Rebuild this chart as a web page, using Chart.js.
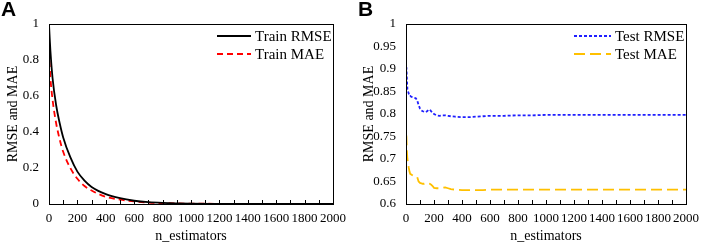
<!DOCTYPE html>
<html>
<head>
<meta charset="utf-8">
<script src="https://cdn.jsdelivr.net/npm/chart.js@4.4.0/dist/chart.umd.min.js"></script>
<style>
  html, body { margin: 0; padding: 0; background: #fff; }
  .wrap { position: relative; width: 706px; height: 244px; }
  .panel { position: absolute; top: 0; width: 353px; height: 244px; }
  .tag { position: absolute; top: -3px; font: bold 21px "Liberation Sans", Arial, sans-serif; color: #000; }
  .preload { font-family: "Liberation Serif"; position: absolute; left: -999px; }
</style>
</head>
<body>
<div class="wrap">
  <div class="panel" style="left:0"><canvas id="chartA" width="353" height="244"></canvas></div>
  <div class="panel" style="left:353px"><canvas id="chartB" width="353" height="244"></canvas></div>
  <div class="tag" style="left:1px">A</div>
  <div class="tag" style="left:358px">B</div>
  <span class="preload">0123456789 RMSE</span>
</div>
<script>
// Panel A - training error
const xTrain = [0, 5, 10, 25, 50, 75, 100, 150, 200, 250, 300, 400, 500, 600, 700, 800, 1000, 1200, 1500, 2000];
const trainRmse = [1.0, 0.92, 0.85, 0.7, 0.55, 0.45, 0.37, 0.26, 0.18, 0.13, 0.095, 0.055, 0.032, 0.018, 0.01, 0.006, 0.002, 0.001, 0, 0];
const trainMae = [0.85, 0.77, 0.7, 0.58, 0.45, 0.36, 0.29, 0.2, 0.14, 0.1, 0.075, 0.04, 0.024, 0.014, 0.008, 0.005, 0.002, 0.001, 0, 0];

// Panel B - test error
const xTest = [0, 3, 6, 10, 15, 20, 25, 30, 40, 50, 60, 70, 80, 90, 100, 110, 120, 130, 140, 150, 160, 170, 180, 190, 200,
  220, 240, 260, 280, 300, 320, 350, 400, 450, 500, 550, 600, 700, 800, 900, 1000, 1200, 1400, 1600, 1800, 2000];
const testRmse = [0.905, 0.903, 0.88, 0.855, 0.85, 0.845, 0.84, 0.84, 0.838, 0.837, 0.836, 0.835, 0.83, 0.82, 0.812, 0.808,
  0.806, 0.805, 0.804, 0.806, 0.809, 0.81, 0.806, 0.803, 0.8, 0.797, 0.796, 0.797, 0.797, 0.796, 0.795, 0.794, 0.793, 0.793,
  0.794, 0.795, 0.796, 0.796, 0.797, 0.797, 0.798, 0.798, 0.798, 0.798, 0.798, 0.798];
const testMae = [0.755, 0.75, 0.72, 0.7, 0.69, 0.68, 0.672, 0.667, 0.665, 0.663, 0.662, 0.66, 0.66, 0.65, 0.647, 0.646,
  0.645, 0.645, 0.646, 0.645, 0.646, 0.645, 0.643, 0.64, 0.636, 0.635, 0.635, 0.636, 0.637, 0.635, 0.633, 0.632, 0.631, 0.631,
  0.631, 0.631, 0.632, 0.632, 0.632, 0.632, 0.632, 0.632, 0.632, 0.632, 0.632, 0.632];

const serif = '"Liberation Serif", "Times New Roman", serif';
Chart.defaults.font.family = serif;
Chart.defaults.color = '#000';

function toPoints(xs, ys) {
  return xs.map((x, i) => ({ x: x, y: ys[i] }));
}

// Box around the plot, inward minor ticks on the x axis, legend inside top right
const framePlugin = {
  id: 'frame',
  afterDraw(chart, args, opts) {
    const ctx = chart.ctx;
    const a = chart.chartArea;
    const xs = chart.scales.x;
    ctx.save();
    ctx.strokeStyle = '#000';
    ctx.lineWidth = 1;
    ctx.strokeRect(a.left + 0.5, a.top + 0.5, a.right - a.left, a.bottom - a.top);
    ctx.beginPath();
    for (let v = 0; v <= 2000; v += 100) {
      const px = Math.round(xs.getPixelForValue(v)) + 0.5;
      ctx.moveTo(px, a.bottom);
      ctx.lineTo(px, a.bottom - 4);
    }
    ctx.stroke();

    // legend
    ctx.font = '15px ' + serif;
    ctx.textBaseline = 'middle';
    chart.data.datasets.forEach((ds, i) => {
      const y = a.top + opts.legendTop + i * 18;
      const x0 = a.left + opts.legendLeft;
      ctx.beginPath();
      ctx.strokeStyle = ds.borderColor;
      ctx.lineWidth = ds.borderWidth;
      ctx.setLineDash(ds.borderDash || []);
      ctx.moveTo(x0, y);
      ctx.lineTo(x0 + opts.sampleWidth, y);
      ctx.stroke();
      ctx.setLineDash([]);
      ctx.fillStyle = '#000';
      ctx.fillText(ds.label, x0 + opts.sampleWidth + 4, y + 1);
    });
    ctx.restore();
  }
};

function makeChart(id, datasets, yMin, yMax, yStep, yWidth, yTitlePad, legendLeft, sampleWidth) {
  const ctx = document.getElementById(id).getContext('2d');
  return new Chart(ctx, {
    type: 'line',
    data: { datasets: datasets },
    options: {
      responsive: false,
      animation: false,
      layout: { padding: { top: 24, right: 13, bottom: 0, left: 0 } },
      elements: { point: { radius: 0 }, line: { tension: 0 } },
      plugins: {
        legend: { display: false },
        tooltip: { enabled: false },
        frame: { legendTop: 12, legendLeft: legendLeft, sampleWidth: sampleWidth }
      },
      scales: {
        x: {
          type: 'linear',
          min: 0,
          max: 2000,
          afterFit: s => { s.height = 40; },
          grid: { display: false, drawTicks: false, tickLength: 0 },
          border: { display: false },
          ticks: {
            stepSize: 200,
            maxRotation: 0,
            autoSkip: false,
            padding: 7,
            color: '#000',
            font: { family: serif, size: 13 },
            callback: v => String(v)
          },
          title: {
            display: true,
            text: 'n_estimators',
            color: '#000',
            padding: { top: 3, bottom: -1 },
            font: { family: serif, size: 14 }
          }
        },
        y: {
          min: yMin,
          max: yMax,
          afterFit: s => { s.width = yWidth; },
          grid: { display: false, drawTicks: false, tickLength: 0 },
          border: { display: false },
          ticks: {
            stepSize: yStep,
            padding: 10,
            color: '#000',
            font: { family: serif, size: 13 },
            callback: v => String(+v.toFixed(2))
          },
          title: {
            display: true,
            text: 'RMSE and MAE',
            color: '#000',
            padding: { top: yTitlePad, bottom: 0 },
            font: { family: serif, size: 14 }
          }
        }
      }
    },
    plugins: [framePlugin]
  });
}

function drawAll() {
  makeChart('chartA', [
    {
      label: 'Train RMSE',
      data: toPoints(xTrain, trainRmse),
      borderColor: '#000000',
      borderWidth: 1.8,
      cubicInterpolationMode: 'monotone'
    },
    {
      label: 'Train MAE',
      data: toPoints(xTrain, trainMae),
      borderColor: '#ff0000',
      borderWidth: 1.8,
      borderDash: [6, 4],
      cubicInterpolationMode: 'monotone'
    }
  ], 0, 1, 0.2, 49, 5, 168, 34);

  makeChart('chartB', [
    {
      label: 'Test RMSE',
      data: toPoints(xTest, testRmse),
      borderColor: '#1f1fff',
      borderWidth: 1.8,
      borderDash: [3, 2]
    },
    {
      label: 'Test MAE',
      data: toPoints(xTest, testMae),
      borderColor: '#ffc000',
      borderWidth: 1.8,
      borderDash: [11, 5]
    }
  ], 0.6, 1, 0.05, 53, 8, 168, 37);
}

Promise.all([
  document.fonts.load('13px "Liberation Serif"'),
  document.fonts.load('bold 21px "Liberation Sans"')
]).then(drawAll, drawAll);
</script>
</body>
</html>
